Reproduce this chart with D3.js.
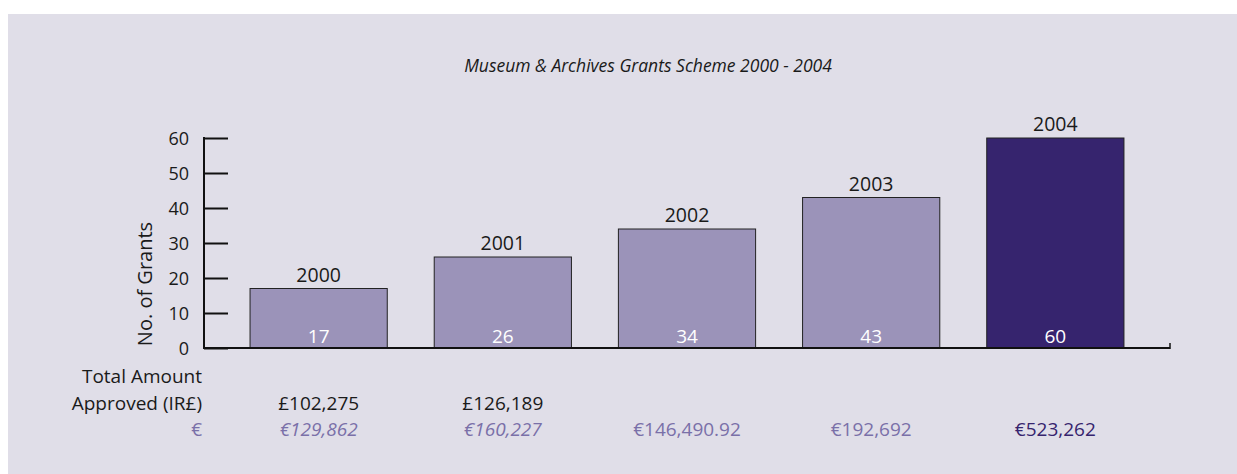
<!DOCTYPE html>
<html>
<head>
<meta charset="utf-8">
<script src="https://cdn.jsdelivr.net/npm/d3@7"></script>
<style>
  body { margin: 0; background: #fff; }
  svg { display: block; font-family: "Open Sans", "DejaVu Sans", sans-serif; }
</style>
</head>
<body>
<svg id="chart"></svg>
<script>
let width = 1237, height = 474;

let years = ["2000", "2001", "2002", "2003", "2004"];
let grants = [17, 26, 34, 43, 60];
let poundAmounts = ["£102,275", "£126,189", "", "", ""];
let euroAmounts = ["€129,862", "€160,227", "€146,490.92", "€192,692", "€523,262"];
let euroItalic = [true, true, false, false, false];
let yTicks = [0, 10, 20, 30, 40, 50, 60];

let light = "#9b93b9", dark = "#36246e", euroColor = "#7a70a8";

let svg = d3.select('#chart')
    .attr('width', width)
    .attr('height', height);

// panel background
svg.append('rect')
    .attr('x', 8).attr('y', 14)
    .attr('width', width - 8).attr('height', height - 14)
    .attr('fill', '#e0dee8');

svg.append('text')
    .attr('x', 648).attr('y', 72)
    .attr('text-anchor', 'middle')
    .attr('font-style', 'italic')
    .attr('font-size', 17.5)
    .attr('fill', '#1a1a1a')
    .text("Museum & Archives Grants Scheme 2000 - 2004");

let x = d3.scaleBand()
    .domain(years)
    .range([204, 1170])
    .paddingInner(0.255)
    .paddingOuter(0.25);

let y = d3.scaleLinear()
    .domain([0, 60])
    .range([348, 138]);

// y axis
let yAxis = svg.append('g')
    .attr('transform', 'translate(204,0)')
    .call(d3.axisRight(y).tickValues(yTicks).tickSize(24).tickFormat(''));
yAxis.select('.domain').remove();
yAxis.selectAll('line').attr('stroke', '#111').attr('stroke-width', 2);
svg.append('line')
    .attr('x1', 204).attr('x2', 204)
    .attr('y1', y(60) - 1).attr('y2', y(0) + 1)
    .attr('stroke', '#111').attr('stroke-width', 2);

svg.append('g').selectAll('text')
    .data(yTicks)
    .enter().append('text')
    .attr('x', 189)
    .attr('y', (d) => y(d) + 7)
    .attr('text-anchor', 'end')
    .attr('font-size', 18)
    .attr('fill', '#1a1a1a')
    .text((d) => d);

svg.append('text')
    .attr('transform', 'translate(152,284) rotate(-90)')
    .attr('text-anchor', 'middle')
    .attr('font-size', 20)
    .attr('fill', '#1a1a1a')
    .text("No. of Grants");

// bars
let bars = svg.append('g').selectAll('g')
    .data(years)
    .enter().append('g');

bars.append('rect')
    .attr('x', (d) => x(d))
    .attr('y', (d, i) => y(grants[i]))
    .attr('width', x.bandwidth())
    .attr('height', (d, i) => y(0) - y(grants[i]))
    .attr('fill', (d, i) => i === 4 ? dark : light)
    .attr('stroke', '#222')
    .attr('stroke-width', 1);

bars.append('text')
    .attr('x', (d) => x(d) + x.bandwidth() / 2)
    .attr('y', (d, i) => y(grants[i]) - 7)
    .attr('text-anchor', 'middle')
    .attr('font-size', 19.5)
    .attr('fill', '#1a1a1a')
    .text((d) => d);

bars.append('text')
    .attr('x', (d) => x(d) + x.bandwidth() / 2)
    .attr('y', y(0) - 5)
    .attr('text-anchor', 'middle')
    .attr('font-size', 19)
    .attr('fill', '#fff')
    .text((d, i) => grants[i]);

// x axis
svg.append('line')
    .attr('x1', 204).attr('x2', 1170)
    .attr('y1', y(0)).attr('y2', y(0))
    .attr('stroke', '#111').attr('stroke-width', 2);
svg.append('line')
    .attr('x1', 1170).attr('x2', 1170)
    .attr('y1', y(0) + 1).attr('y2', y(0) - 5)
    .attr('stroke', '#111').attr('stroke-width', 1.5);

// amount rows
let rowLabels = [["Total Amount", 383, '#1a1a1a'], ["Approved (IR£)", 410, '#1a1a1a'], ["€", 436, euroColor]];
svg.append('g').selectAll('text')
    .data(rowLabels)
    .enter().append('text')
    .attr('x', 202)
    .attr('y', (d) => d[1])
    .attr('text-anchor', 'end')
    .attr('font-size', 19)
    .attr('fill', (d) => d[2])
    .text((d) => d[0]);

svg.append('g').selectAll('text')
    .data(years)
    .enter().append('text')
    .attr('x', (d) => x(d) + x.bandwidth() / 2)
    .attr('y', 410)
    .attr('text-anchor', 'middle')
    .attr('font-size', 19)
    .attr('fill', '#1a1a1a')
    .text((d, i) => poundAmounts[i]);

svg.append('g').selectAll('text')
    .data(years)
    .enter().append('text')
    .attr('x', (d) => x(d) + x.bandwidth() / 2)
    .attr('y', 436)
    .attr('text-anchor', 'middle')
    .attr('font-size', 19)
    .attr('font-style', (d, i) => euroItalic[i] ? 'italic' : 'normal')
    .attr('fill', (d, i) => i === 4 ? dark : euroColor)
    .text((d, i) => euroAmounts[i]);
</script>
</body>
</html>
